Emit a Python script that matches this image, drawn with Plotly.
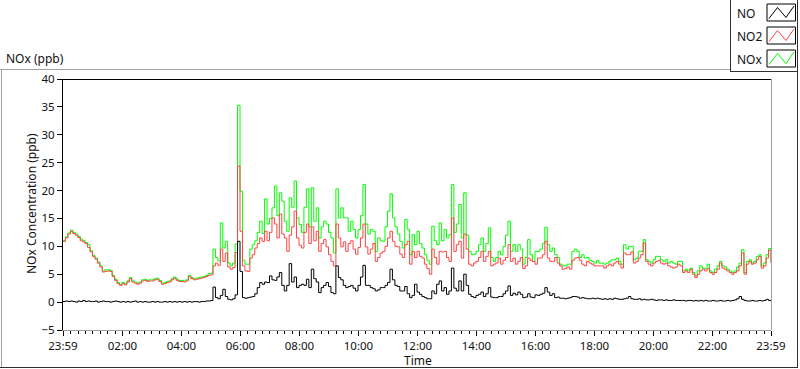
import plotly.graph_objects as go

# ---------------- data ----------------
# sample times in minutes after 23:59 of the previous day (5-minute samples)
sample_minutes = list(range(0, 1441, 5))

tick_minutes = [0, 121, 241, 361, 481, 601, 721, 841, 961, 1081, 1201, 1321, 1440]
tick_labels = ["23:59", "02:00", "04:00", "06:00", "08:00", "10:00", "12:00",
               "14:00", "16:00", "18:00", "20:00", "22:00", "23:59"]

y_ticks = [-5, 0, 5, 10, 15, 20, 25, 30, 35, 40]

no2_ppb = [
    10.9, 11.5, 12.2, 12.7, 12.3, 12.0, 11.6, 11.0, 10.8, 10.5, 9.8, 9.0,
    8.2, 7.7, 7.0, 6.3, 5.4, 5.5, 5.6, 5.5, 4.6, 3.9, 3.3, 3.0,
    3.3, 3.1, 3.6, 4.2, 3.6, 3.4, 3.2, 3.4, 3.8, 3.9, 3.7, 3.8,
    3.8, 4.0, 4.1, 3.7, 3.2, 3.3, 3.5, 3.6, 4.0, 4.3, 3.9, 3.7,
    3.7, 3.6, 3.8, 4.6, 4.2, 4.0, 4.1, 4.2, 4.3, 4.4, 4.6, 4.8,
    4.9, 6.5, 7.0, 6.6, 9.5, 7.3, 8.8, 6.3, 5.9, 6.2, 8.9, 24.4,
    12.7, 6.5, 5.6, 5.5, 7.9, 8.5, 9.7, 10.5, 11.5, 10.9, 12.7, 11.0,
    12.5, 15.1, 14.0, 11.5, 15.8, 12.2, 11.5, 9.1, 12.0, 13.5, 16.3, 11.5,
    10.2, 9.7, 12.5, 14.0, 10.5, 13.5, 11.0, 12.7, 9.1, 10.5, 11.2, 9.9,
    8.5, 7.3, 6.5, 14.0, 11.5, 9.9, 10.8, 9.1, 10.5, 11.0, 9.5, 8.6,
    9.8, 11.5, 14.0, 9.9, 8.6, 9.5, 10.5, 7.3, 8.0, 8.8, 9.1, 10.0,
    11.5, 12.7, 10.9, 10.0, 9.9, 8.6, 8.0, 10.3, 10.9, 6.8, 9.1, 8.0,
    9.1, 8.2, 7.9, 6.8, 6.0, 5.0, 9.5, 8.0, 6.8, 9.1, 9.0, 9.1,
    8.0, 7.3, 15.1, 9.1, 10.3, 10.9, 7.9, 12.2, 9.5, 6.8, 6.5, 7.0,
    7.3, 8.0, 9.1, 7.3, 8.2, 9.1, 6.5, 6.8, 7.0, 7.9, 6.8, 7.5,
    8.0, 10.3, 7.3, 7.9, 6.8, 7.3, 8.0, 6.0, 6.5, 7.9, 7.5, 7.3,
    6.8, 7.9, 7.9, 8.5, 10.9, 7.9, 7.3, 7.3, 8.0, 7.0, 6.5, 5.9,
    6.0, 6.3, 5.9, 7.5, 7.9, 8.0, 7.5, 6.8, 6.5, 7.3, 7.0, 6.8,
    6.5, 6.5, 6.5, 6.5, 6.1, 6.5, 6.8, 6.5, 7.0, 7.3, 6.8, 6.1,
    8.8, 8.5, 8.5, 9.0, 7.0, 7.3, 7.9, 8.5, 10.6, 7.3, 6.8, 6.5,
    7.0, 7.3, 7.5, 7.0, 6.8, 7.0, 6.5, 6.3, 6.1, 6.3, 6.8, 6.5,
    5.3, 5.6, 5.3, 5.9, 5.0, 4.4, 5.0, 5.6, 5.9, 5.6, 6.0, 5.3,
    5.0, 5.3, 5.9, 7.0, 6.1, 5.9, 5.6, 5.3, 5.0, 5.3, 5.6, 6.5,
    8.8, 5.0, 6.8, 7.3, 6.8, 7.0, 7.6, 8.2, 6.1, 6.5, 7.9, 9.3, 7.0,
]

nox_ppb = [
    11.0, 11.7, 12.4, 12.9, 12.5, 12.2, 11.8, 11.3, 11.0, 10.7, 10.3, 9.2,
    8.4, 7.9, 7.2, 6.5, 5.6, 5.8, 5.8, 5.7, 4.8, 4.1, 3.5, 3.2,
    3.5, 3.3, 3.8, 4.4, 3.8, 3.6, 3.4, 3.6, 4.0, 4.1, 3.9, 4.0,
    4.0, 4.2, 4.3, 3.9, 3.4, 3.5, 3.7, 3.8, 4.2, 4.5, 4.1, 3.9,
    3.9, 3.8, 4.0, 4.8, 4.4, 4.2, 4.3, 4.4, 4.5, 4.6, 4.8, 5.1,
    5.2, 9.5, 8.0, 7.4, 14.2, 9.7, 10.9, 7.0, 6.5, 7.0, 10.4, 35.3,
    19.9, 7.5, 6.8, 6.8, 9.5, 10.3, 11.0, 12.5, 14.5, 12.3, 18.5, 14.0,
    15.0, 16.9, 20.8, 15.5, 19.6, 18.1, 14.5, 12.7, 18.7, 17.0, 21.7, 15.1,
    13.9, 12.5, 17.0, 20.3, 13.5, 20.5, 14.5, 16.9, 11.5, 13.5, 14.5, 14.0,
    12.5, 11.5, 8.8, 20.3, 15.1, 16.9, 15.1, 15.1, 12.7, 14.5, 13.0, 11.5,
    13.0, 15.5, 21.1, 14.0, 12.2, 13.0, 12.7, 9.1, 11.5, 11.0, 10.9, 13.5,
    16.3, 19.4, 15.1, 13.5, 12.2, 10.9, 9.7, 14.8, 13.0, 8.5, 12.1, 10.3,
    12.7, 10.5, 9.7, 8.5, 7.5, 6.8, 13.6, 11.0, 10.3, 14.2, 11.0, 13.0,
    11.5, 12.1, 21.1, 12.5, 14.0, 17.5, 11.5, 19.6, 12.0, 9.1, 8.5, 8.6,
    9.1, 10.3, 11.5, 9.1, 10.5, 13.3, 8.0, 7.3, 8.0, 9.1, 8.5, 10.0,
    12.0, 14.5, 9.1, 10.3, 9.1, 10.3, 9.5, 6.8, 8.0, 11.2, 8.5, 7.3,
    9.1, 9.1, 9.5, 10.5, 13.4, 10.3, 9.1, 9.7, 8.5, 8.0, 6.8, 6.5,
    6.5, 6.8, 6.8, 9.1, 9.5, 9.1, 8.0, 8.5, 7.9, 8.0, 7.5, 7.3,
    7.0, 7.5, 7.0, 7.0, 6.8, 7.0, 7.3, 7.6, 7.6, 7.9, 7.3, 6.8,
    10.3, 9.5, 10.0, 10.0, 7.6, 7.9, 9.1, 9.1, 11.2, 7.6, 7.3, 7.0,
    7.6, 8.2, 8.2, 7.6, 7.3, 7.6, 7.0, 7.3, 7.0, 6.8, 7.3, 7.3,
    5.6, 5.9, 5.6, 6.1, 5.3, 4.7, 5.6, 6.5, 6.1, 6.0, 6.8, 5.6,
    5.3, 5.9, 6.5, 7.3, 6.5, 6.3, 5.9, 5.6, 5.3, 5.6, 6.3, 7.0,
    9.4, 5.3, 7.3, 7.6, 7.0, 7.3, 8.2, 8.5, 6.5, 7.0, 8.5, 9.6, 7.3,
]

no_ppb = [
    0.1, 0.2, 0.1, 0.2, 0.1, 0.0, 0.2, 0.1, 0.3, 0.1, 0.2, 0.1,
    0.1, 0.2, 0.0, 0.1, 0.2, 0.1, 0.1, 0.0, 0.1, 0.2, 0.1, 0.0,
    0.1, 0.0, 0.1, 0.0, 0.1, 0.2, 0.0, 0.1, 0.0, 0.1, 0.0, 0.0,
    0.1, 0.0, 0.1, 0.0, 0.0, 0.1, 0.0, 0.1, 0.0, 0.1, 0.0, 0.1,
    0.0, 0.1, 0.0, 0.1, 0.0, 0.1, 0.1, 0.0, 0.1, 0.1, 0.2, 0.2,
    0.3, 2.7, 0.8, 0.6, 1.2, 2.3, 1.0, 0.5, 0.4, 0.6, 1.3, 10.9,
    5.5, 0.8, 0.7, 0.8, 0.9, 1.0, 1.5, 2.6, 3.5, 3.2, 3.6, 3.5,
    4.7, 4.0, 3.9, 4.5, 5.3, 3.0, 2.0, 3.0, 6.9, 3.6, 4.5, 2.6,
    3.0, 3.2, 3.0, 4.1, 2.6, 5.9, 4.2, 3.6, 1.7, 2.6, 3.0, 3.5,
    2.8, 1.7, 1.5, 6.5, 4.4, 4.0, 3.0, 2.6, 2.8, 3.0, 2.5, 2.0,
    3.0, 4.5, 6.6, 3.0, 3.0, 2.6, 2.4, 2.0, 2.2, 2.6, 2.6, 3.0,
    3.5, 5.9, 4.0, 3.0, 2.8, 2.0, 2.0, 2.8, 1.5, 0.8, 1.2, 3.2,
    1.8, 1.4, 1.0, 0.8, 0.6, 0.6, 2.0, 1.5, 3.2, 3.8, 2.0, 2.6,
    1.4, 2.0, 6.1, 2.5, 2.0, 3.8, 2.0, 5.0, 3.0, 1.4, 1.0, 0.8,
    1.2, 1.4, 1.8, 1.0, 1.5, 2.6, 0.9, 0.8, 0.8, 1.0, 1.0, 1.5,
    2.0, 2.9, 1.2, 1.6, 1.3, 1.8, 1.4, 0.8, 0.9, 1.5, 0.9, 0.8,
    1.3, 1.2, 1.4, 1.6, 2.6, 1.8, 1.2, 1.5, 0.8, 0.9, 0.7, 0.7,
    0.6, 0.7, 0.8, 1.0, 1.0, 0.9, 0.7, 0.8, 0.7, 0.6, 0.6, 0.7,
    0.6, 0.7, 0.6, 0.5, 0.6, 0.5, 0.6, 0.5, 0.7, 0.6, 0.5, 0.5,
    0.6, 0.7, 1.0, 0.6, 0.5, 0.5, 0.6, 0.4, 0.5, 0.4, 0.4, 0.5,
    0.4, 0.3, 0.4, 0.4, 0.3, 0.4, 0.3, 0.3, 0.4, 0.3, 0.3, 0.3,
    0.3, 0.2, 0.3, 0.3, 0.2, 0.3, 0.2, 0.3, 0.2, 0.3, 0.2, 0.2,
    0.3, 0.2, 0.2, 0.3, 0.2, 0.2, 0.3, 0.2, 0.3, 0.4, 0.6, 1.0,
    0.5, 0.3, 0.2, 0.2, 0.3, 0.2, 0.2, 0.3, 0.2, 0.3, 0.5, 0.3, 0.2,
]

series_names = ["NO", "NO2", "NOx"]
series_colors = ["#000000", "#FF4444", "#00FF00"]

# ---------------- layout geometry (pixels) ----------------
W, H = 800, 369
ML, MT = 63, 79
PW, PH = 708, 251
MR = W - ML - PW
MB = H - MT - PH
FONT = "Noto Sans"
TXT = "#111111"


def fx(p):
    return (p - ML) / PW


def fy(p):
    return (MT + PH - p) / PH


fig = go.Figure()
fig.add_trace(go.Scatter(x=sample_minutes, y=nox_ppb, mode="lines", name="NOx",
                         line=dict(color=series_colors[2], width=1, shape="hv")))
fig.add_trace(go.Scatter(x=sample_minutes, y=no2_ppb, mode="lines", name="NO2",
                         line=dict(color=series_colors[1], width=1, shape="hv")))
fig.add_trace(go.Scatter(x=sample_minutes, y=no_ppb, mode="lines", name="NO",
                         line=dict(color=series_colors[0], width=1, shape="hv")))

shapes = []


def line(x0, y0, x1, y1, color, width=1):
    shapes.append(dict(type="line", xref="paper", yref="paper",
                       x0=fx(x0), y0=fy(y0), x1=fx(x1), y1=fy(y1),
                       line=dict(color=color, width=width), layer="above"))


# plot frame: top black, right gray
line(62, 79.5, 772, 79.5, "#000000")
line(771.5, 79, 771.5, 330, "#A0A0A0")
# outer frame
line(0, 69.5, 731, 69.5, "#A0A0A0")
line(1.5, 69.5, 1.5, 368, "#A0A0A0")
line(0, 367.5, 798, 367.5, "#303030")
line(797.5, 0, 797.5, 368, "#303030")
# legend box
line(730.5, 0, 730.5, 72, "#303030")
line(730.5, 71.5, 798, 71.5, "#303030")

annotations = []
legend_rows = [13.5, 36.5, 59.5]
for name, color, yc in zip(series_names, series_colors, legend_rows):
    annotations.append(dict(x=fx(735), y=fy(yc), xref="paper", yref="paper",
                            text=name, showarrow=False, xanchor="left", yanchor="middle",
                            font=dict(family=FONT, size=12, color=TXT)))
    shapes.append(dict(type="rect", xref="paper", yref="paper",
                       x0=fx(767), x1=fx(795.5), y0=fy(yc - 9.5), y1=fy(yc + 7.5),
                       line=dict(color="#000000", width=1), fillcolor="white", layer="above"))
    pts = [(769, yc + 5), (777.5, yc - 6), (786, yc + 4), (794, yc - 7.5)]
    path = "M " + " L ".join(f"{fx(a):.5f},{fy(b):.5f}" for a, b in pts)
    shapes.append(dict(type="path", xref="paper", yref="paper", path=path,
                       line=dict(color=color, width=1), layer="above"))

annotations.append(dict(x=fx(4), y=fy(58), xref="paper", yref="paper", text="NOx (ppb)",
                        showarrow=False, xanchor="left", yanchor="middle",
                        font=dict(family=FONT, size=12, color=TXT)))
annotations.append(dict(x=fx(31), y=fy(204), xref="paper", yref="paper",
                        text="NOx Concentration (ppb)", textangle=-90,
                        showarrow=False, xanchor="center", yanchor="middle",
                        font=dict(family=FONT, size=12, color=TXT)))
annotations.append(dict(x=fx(418), y=fy(360), xref="paper", yref="paper", text="Time",
                        showarrow=False, xanchor="center", yanchor="middle",
                        font=dict(family=FONT, size=12, color=TXT)))

fig.update_layout(
    width=W, height=H,
    margin=dict(l=ML, r=MR, t=MT, b=MB, pad=0),
    paper_bgcolor="white", plot_bgcolor="white",
    showlegend=False,
    font=dict(family=FONT, size=12, color=TXT),
    shapes=shapes, annotations=annotations,
    xaxis=dict(range=[0, 1440], tickvals=tick_minutes, ticktext=tick_labels,
               ticks="outside", ticklen=5, tickcolor="#000000", tickwidth=1,
               showline=True, linecolor="#A0A0A0", linewidth=1,
               showgrid=False, zeroline=False,
               tickfont=dict(family=FONT, size=11.5, color=TXT),
               minor=dict(ticks="outside", ticklen=3, tickcolor="#000000",
                          tick0=1, dtick=15, showgrid=False)),
    yaxis=dict(range=[-5, 40], tickvals=y_ticks,
               ticks="outside", ticklen=5, tickcolor="#000000", tickwidth=1,
               showline=True, linecolor="#000000", linewidth=1,
               showgrid=False, zeroline=False,
               tickfont=dict(family=FONT, size=11.5, color=TXT)),
)

fig.write_html("out.html", config={"displayModeBar": False},
               post_script="document.body.style.margin='0';document.body.style.overflow='hidden';")
